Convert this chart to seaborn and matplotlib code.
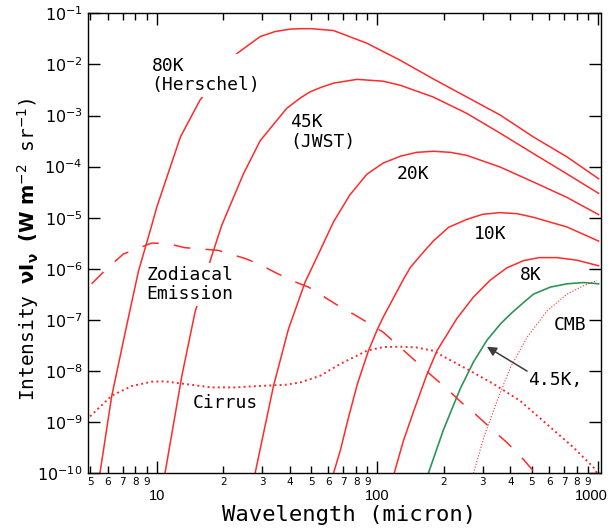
import matplotlib
matplotlib.use("Agg")
import matplotlib.pyplot as plt
import matplotlib.ticker as mticker
from matplotlib.transforms import ScaledTranslation
import seaborn as sns

# values
# wavelength in micron, intensity nu*I_nu in W m^-2 sr^-1
wl_80k = [5.53, 6.25, 7.31, 8.26, 9.49, 10.0, 12.8, 15.7, 23.2, 29.4, 34.4, 40.2, 44.7, 50.0,
          63.2, 89.5, 127, 179, 254, 360, 509, 722, 1004]
i_80k = [1.0e-10, 3.2e-9, 7.8e-8, 8.9e-7, 7.1e-6, 1.6e-5, 3.8e-4, 2.0e-3, 1.66e-2, 3.5e-2, 4.4e-2,
         4.9e-2, 5.0e-2, 5.0e-2, 4.6e-2, 2.6e-2, 1.2e-2, 5.2e-3, 2.3e-3, 1.02e-3, 3.8e-4, 1.55e-4, 5.8e-5]

wl_45k = [10.9, 13.0, 14.9, 17.6, 19.7, 24.7, 29.4, 38.8, 44.7, 49.5, 55.0, 63.2, 80.7, 106,
          127, 179, 254, 360, 509, 722, 1004]
i_45k = [1.0e-10, 8.1e-9, 1.4e-7, 1.6e-6, 7.1e-6, 7.2e-5, 3.2e-4, 1.38e-3, 2.2e-3, 2.9e-3, 3.5e-3,
         4.3e-3, 5.1e-3, 4.7e-3, 3.9e-3, 2.3e-3, 1.1e-3, 4.5e-4, 1.8e-4, 7.2e-5, 3.0e-5]

wl_20k = [27.9, 33.8, 39.5, 47.0, 55.0, 63.2, 75.0, 89.5, 106, 127, 150, 179, 215, 254, 360, 509, 722, 1004]
i_20k = [1.0e-10, 5.1e-9, 6.6e-8, 5.5e-7, 2.3e-6, 8.3e-6, 2.8e-5, 7.1e-5, 1.17e-4, 1.6e-4, 1.9e-4,
         2.0e-4, 1.9e-4, 1.66e-4, 9.8e-5, 5.0e-5, 2.5e-5, 1.15e-5]

wl_10k = [63.2, 67.8, 73.9, 81.1, 91.0, 100, 106, 131, 141, 164, 179, 210, 254, 300, 360, 430, 509, 722, 1004]
i_10k = [1.0e-10, 2.75e-10, 1.23e-9, 5.6e-9, 2.5e-8, 6.6e-8, 1.12e-7, 6.2e-7, 1.07e-6, 2.3e-6, 3.5e-6,
         6.5e-6, 9.3e-6, 1.17e-5, 1.26e-5, 1.2e-5, 1.02e-5, 6.6e-6, 3.5e-6]

wl_8k = [119, 131, 146, 167, 186, 229, 272, 324, 386, 459, 540, 650, 800, 1004]
i_8k = [1.0e-10, 4.3e-10, 1.66e-9, 8.3e-9, 2.5e-8, 1.07e-7, 2.8e-7, 6.0e-7, 1.05e-6, 1.45e-6,
        1.66e-6, 1.66e-6, 1.48e-6, 1.15e-6]

wl_cmb = [170, 199, 237, 272, 313, 360, 400, 459, 509, 607, 722, 859, 1004]
i_cmb = [1.0e-10, 7.1e-10, 4.5e-9, 1.5e-8, 4.0e-8, 8.3e-8, 1.3e-7, 2.2e-7, 3.2e-7, 4.4e-7, 5.1e-7, 5.4e-7, 5.1e-7]

wl_4k5 = [272, 303, 348, 400, 476, 586, 722, 859, 988]
i_4k5 = [1.0e-10, 5.0e-10, 2.6e-9, 1.17e-8, 4.6e-8, 1.5e-7, 3.2e-7, 4.7e-7, 5.9e-7]

wl_zodi = [5.07, 5.93, 7.06, 9.49, 11.3, 13.4, 19.0, 25.1, 28.9, 34.4, 40.9, 48.7, 67.8, 77.9, 92.7,
           106, 127, 148, 173, 203, 241, 277, 336, 386, 459, 519]
i_zodi = [5.1e-7, 1.0e-6, 1.95e-6, 3.2e-6, 3.1e-6, 2.6e-6, 2.3e-6, 1.6e-6, 1.26e-6, 8.5e-7, 5.9e-7,
          4.4e-7, 1.8e-7, 1.3e-7, 8.3e-8, 5.8e-8, 2.9e-8, 1.6e-8, 8.7e-9, 4.8e-9, 2.4e-9, 1.45e-9,
          6.8e-10, 4.0e-10, 1.86e-10, 1.0e-10]

wl_cirrus = [4.99, 6.25, 7.71, 9.49, 10.9, 13.4, 17.7, 22.6, 28.9, 38.2, 44.7, 55.0, 67.8, 89.5, 106,
             127, 150, 179, 192, 254, 336, 444, 586, 773, 953, 988]
i_cirrus = [1.3e-9, 3.3e-9, 5.1e-9, 6.2e-9, 6.3e-9, 5.6e-9, 4.8e-9, 4.8e-9, 5.1e-9, 5.4e-9, 6.0e-9,
            8.1e-9, 1.38e-8, 2.5e-8, 2.95e-8, 3.0e-8, 2.9e-8, 2.5e-8, 2.1e-8, 1.1e-8, 5.6e-9, 2.6e-9,
            9.1e-10, 3.2e-10, 1.3e-10, 1.0e-10]

x_major = [10, 100, 1000]
x_major_labels = ["10", "100", "1000"]
x_minor = [5, 6, 7, 8, 9, 20, 30, 40, 50, 60, 70, 80, 90, 200, 300, 400, 500, 600, 700, 800, 900]
x_minor_labels = ["5", "6", "7", "8", "9", "2", "3", "4", "5", "6", "7", "8", "9",
                  "2", "3", "4", "5", "6", "7", "8", "9"]

RED = "#ff2a2a"
GREEN = "#2e9458"
MONO = "DejaVu Sans Mono"

plt.rcParams["mathtext.fontset"] = "dejavusans"

fig = plt.figure(figsize=(6.13, 5.32), dpi=100)
ax = fig.add_axes([0.1441, 0.1103, 0.8364, 0.8647])
ax.set_xscale("log")
ax.set_yscale("log")

for wl, inten in [(wl_80k, i_80k), (wl_45k, i_45k), (wl_20k, i_20k), (wl_10k, i_10k), (wl_8k, i_8k)]:
    sns.lineplot(x=wl, y=inten, ax=ax, color=RED, lw=1.1, errorbar=None)
sns.lineplot(x=wl_cmb, y=i_cmb, ax=ax, color=GREEN, lw=1.2, errorbar=None)
sns.lineplot(x=wl_4k5, y=i_4k5, ax=ax, color=RED, lw=0.8, linestyle=":", errorbar=None)
sns.lineplot(x=wl_zodi, y=i_zodi, ax=ax, color=RED, lw=1.1, linestyle=(0, (11, 10)), errorbar=None)
sns.lineplot(x=wl_cirrus, y=i_cirrus, ax=ax, color=RED, lw=1.4, linestyle=":", errorbar=None)

ax.set_xlim(4.9, 1030)
ax.set_ylim(1e-10, 1e-1)

# labels on the curves
box = dict(facecolor="white", edgecolor="none", pad=2)
txt = dict(family=MONO, fontsize=13, ha="left", va="top", linespacing=1.1)
ax.text(9.49, 1.41e-2, "80K\n(Herschel)", bbox=box, **txt)
ax.text(40.2, 1.11e-3, "45K\n(JWST)", **txt)
ax.text(122, 1.06e-4, "20K", **txt)
ax.text(272, 7.06e-6, "10K", **txt)
ax.text(441, 1.16e-6, "8K", **txt)
ax.text(628, 1.21e-7, "CMB", **txt)
ax.text(479, 1.01e-8, "4.5K,", **txt)
ax.text(9.01, 1.16e-6, "Zodiacal\nEmission", bbox=box, **txt)
ax.text(14.5, 3.54e-9, "Cirrus", **txt)
ax.annotate("", xy=(313, 3.0e-8), xytext=(476, 1.0e-8),
            arrowprops=dict(arrowstyle="-|>", color="#3c3c3c", lw=1.1,
                            mutation_scale=14, shrinkA=0, shrinkB=0))

# ticks
ax.yaxis.set_major_locator(mticker.LogLocator(base=10, numticks=20))
ax.yaxis.set_minor_locator(mticker.NullLocator())
ax.xaxis.set_major_locator(mticker.FixedLocator(x_major))
ax.xaxis.set_major_formatter(mticker.FixedFormatter(x_major_labels))
ax.xaxis.set_minor_locator(mticker.FixedLocator(x_minor))
ax.xaxis.set_minor_formatter(mticker.FixedFormatter(x_minor_labels))
ax.tick_params(which="both", direction="in", top=True, right=True, width=1, color="black")
ax.tick_params(which="major", length=8.4)
ax.tick_params(which="minor", length=4.8)
ax.tick_params(axis="x", which="major", labelsize=10.5, pad=11)
ax.tick_params(axis="x", which="minor", labelsize=7.5, pad=3)
ax.tick_params(axis="y", labelsize=11.5, pad=4)
major_ticks = ax.xaxis.get_major_ticks()
for tk in major_ticks:
    tk.label1.set_fontfamily("Liberation Sans")
# the "1000" label sits a little left of its tick so it stays inside the figure
last = major_ticks[-1].label1
last.set_transform(last.get_transform() + ScaledTranslation(-5 / 72, 0, fig.dpi_scale_trans))
for s in ax.spines.values():
    s.set_linewidth(1.0)
    s.set_color("black")

ax.set_xlabel("Wavelength (micron)", family=MONO, fontsize=16)
ax.xaxis.set_label_coords(0.508, -0.068)
ax.set_ylabel(r"Intensity $\mathbf{\nu I_{\nu}}$ $\mathbf{(W\ m}^{-2}$ sr$^{-1}$)", family=MONO, fontsize=14)
ax.yaxis.set_label_coords(-0.092, 0.488)

fig.savefig("out.png", dpi=100)
